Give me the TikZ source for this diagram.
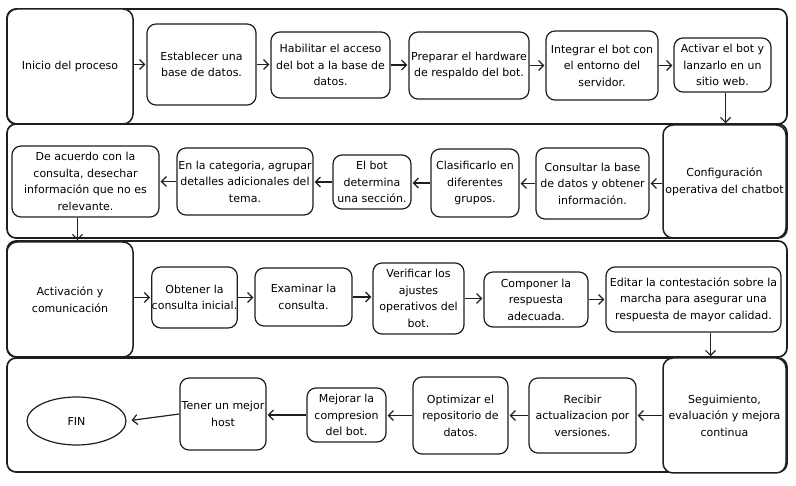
\documentclass[tikz,border=0pt]{standalone}
\usepackage{fontspec}
\setmainfont{DejaVu Sans}
\usetikzlibrary{arrows.meta,shapes.geometric}
\definecolor{ink}{HTML}{1E1E1E}
\begin{document}
\begin{tikzpicture}[x=1pt,y=-1pt,
  lane/.style={draw=ink,line width=1.7pt,rounded corners=9pt,inner sep=0pt},
  head/.style={draw=ink,fill=white,line width=1.5pt,rounded corners=10pt,inner sep=0pt,align=center,font=\fontsize{11}{16.5}\selectfont},
  box/.style={draw=ink,fill=white,line width=1.2pt,rounded corners=9pt,inner sep=0pt,align=center,font=\fontsize{11}{16.5}\selectfont},
  arr/.style={draw=ink,line width=1.2pt,shorten >=1pt,-{Straight Barb[length=5pt,width=10pt,line width=1.2pt]}}]
\useasboundingbox (0,0) rectangle (796,486);
% lanes
\node[lane,minimum width=780pt,minimum height=115pt] (L1) at (397,66.5) {};
\node[lane,minimum width=780pt,minimum height=114pt] (L2) at (397,181) {};
\node[lane,minimum width=780pt,minimum height=116pt] (L3) at (397,299) {};
\node[lane,minimum width=780pt,minimum height=114pt] (L4) at (397,415) {};
% lane 1
\node[head,minimum width=126pt,minimum height=115pt] (ini) at (70,66.5) {Inicio del proceso};
\node[box,minimum width=109pt,minimum height=81pt] (est) at (201.5,64.5) {Establecer una\\base de datos.};
\node[box,minimum width=119pt,minimum height=66pt] (hab) at (330.5,65) {Habilitar el acceso\\del bot a la base de\\datos.};
\node[box,minimum width=120pt,minimum height=67pt] (prep) at (469,65.5) {Preparar el hardware\\de respaldo del bot.};
\node[box,minimum width=112pt,minimum height=69pt] (integ) at (602,65.5) {Integrar el bot con\\el entorno del\\servidor.};
\node[box,minimum width=97pt,minimum height=54pt] (act) at (722.5,65) {Activar el bot y\\lanzarlo en un\\sitio web.};
% lane 2
\node[head,minimum width=123pt,minimum height=113pt] (cfg) at (724.5,181.5) {Configuración\\operativa del chatbot};
\node[box,minimum width=113pt,minimum height=71pt] (cons) at (592.5,183.5) {Consultar la base\\de datos y obtener\\información.};
\node[box,minimum width=88pt,minimum height=68pt] (clas) at (475,183) {Clasificarlo en\\diferentes\\grupos.};
\node[box,minimum width=78pt,minimum height=54pt] (elbot) at (372,182) {El bot\\determina\\una sección.};
\node[box,minimum width=136pt,minimum height=67pt] (cat) at (245,181.5) {En la categoria, agrupar\\detalles adicionales del\\tema.};
\node[box,minimum width=147pt,minimum height=71pt] (acu) at (85.5,181.5) {De acuerdo con la\\consulta, desechar\\información que no es\\relevante.};
% lane 3
\node[head,minimum width=126pt,minimum height=115pt] (actv) at (70,299.5) {Activación y\\comunicación};
\node[box,minimum width=85pt,minimum height=61pt] (obt) at (194.5,297.5) {Obtener la\\consulta inicial.};
\node[box,minimum width=97pt,minimum height=58pt] (exa) at (303.5,297) {Examinar la\\consulta.};
\node[box,minimum width=91pt,minimum height=71pt] (ver) at (418.5,298.5) {Verificar los\\ajustes\\operativos del\\bot.};
\node[box,minimum width=104pt,minimum height=55pt] (comp) at (536,299.5) {Componer la\\respuesta\\adecuada.};
\node[box,minimum width=175pt,minimum height=65pt] (edit) at (693.5,299.5) {Editar la contestación sobre la\\marcha para asegurar una\\respuesta de mayor calidad.};
% lane 4
\node[head,minimum width=123pt,minimum height=115pt] (seg) at (724.5,415.5) {Seguimiento,\\evaluación y mejora\\continua};
\node[box,minimum width=107pt,minimum height=75pt] (rec) at (582.5,415.5) {Recibir\\actualizacion por\\versiones.};
\node[box,minimum width=95pt,minimum height=77pt] (opt) at (460.5,415.5) {Optimizar el\\repositorio de\\datos.};
\node[box,minimum width=79pt,minimum height=54pt] (mej) at (346.5,415) {Mejorar la\\compresion\\del bot.};
\node[box,minimum width=86pt,minimum height=72pt] (ten) at (223,414) {Tener un mejor\\host};
\node[draw=ink,fill=white,line width=1.2pt,ellipse,inner sep=0pt,minimum width=99pt,minimum height=48pt,font=\fontsize{11}{16.5}\selectfont] (fin) at (76.5,421) {FIN};
% arrows lane 1
\draw[arr] (ini.east |- est.west) -- (est.west);
\draw[arr] (est.east) -- (est.east -| hab.west);
\draw[arr] (hab.east) -- (hab.east -| prep.west);
\draw[arr] (prep.east) -- (prep.east -| integ.west);
\draw[arr] (integ.east) -- (integ.east -| act.west);
\draw[arr] ([xshift=3pt]act.south) -- ([xshift=3pt]act.south |- cfg.north);
% lane 2
\draw[arr] (cfg.west |- cons.east) -- (cons.east);
\draw[arr] (cons.west) -- (cons.west -| clas.east);
\draw[arr] (clas.west) -- (clas.west -| elbot.east);
\draw[arr] (elbot.west) -- (elbot.west -| cat.east);
\draw[arr] (cat.west) -- (cat.west -| acu.east);
\draw[arr] ([xshift=-8pt]acu.south) -- ([xshift=-8pt]acu.south |- actv.north);
% lane 3
\draw[arr] (actv.east |- obt.west) -- (obt.west);
\draw[arr] (obt.east) -- (obt.east -| exa.west);
\draw[arr] (exa.east) -- (exa.east -| ver.west);
\draw[arr] (ver.east) -- (ver.east -| comp.west);
\draw[arr] (comp.east) -- (comp.east -| edit.west);
\draw[arr] ([xshift=17pt]edit.south) -- ([xshift=17pt]edit.south |- seg.north);
% lane 4
\draw[arr] (seg.west |- rec.east) -- (rec.east);
\draw[arr] (rec.west) -- (rec.west -| opt.east);
\draw[arr] (opt.west) -- (opt.west -| mej.east);
\draw[arr] (mej.west) -- (mej.west -| ten.east);
\draw[arr,shorten >=5pt] (ten.west) -- (fin.east);
\end{tikzpicture}
\end{document}
